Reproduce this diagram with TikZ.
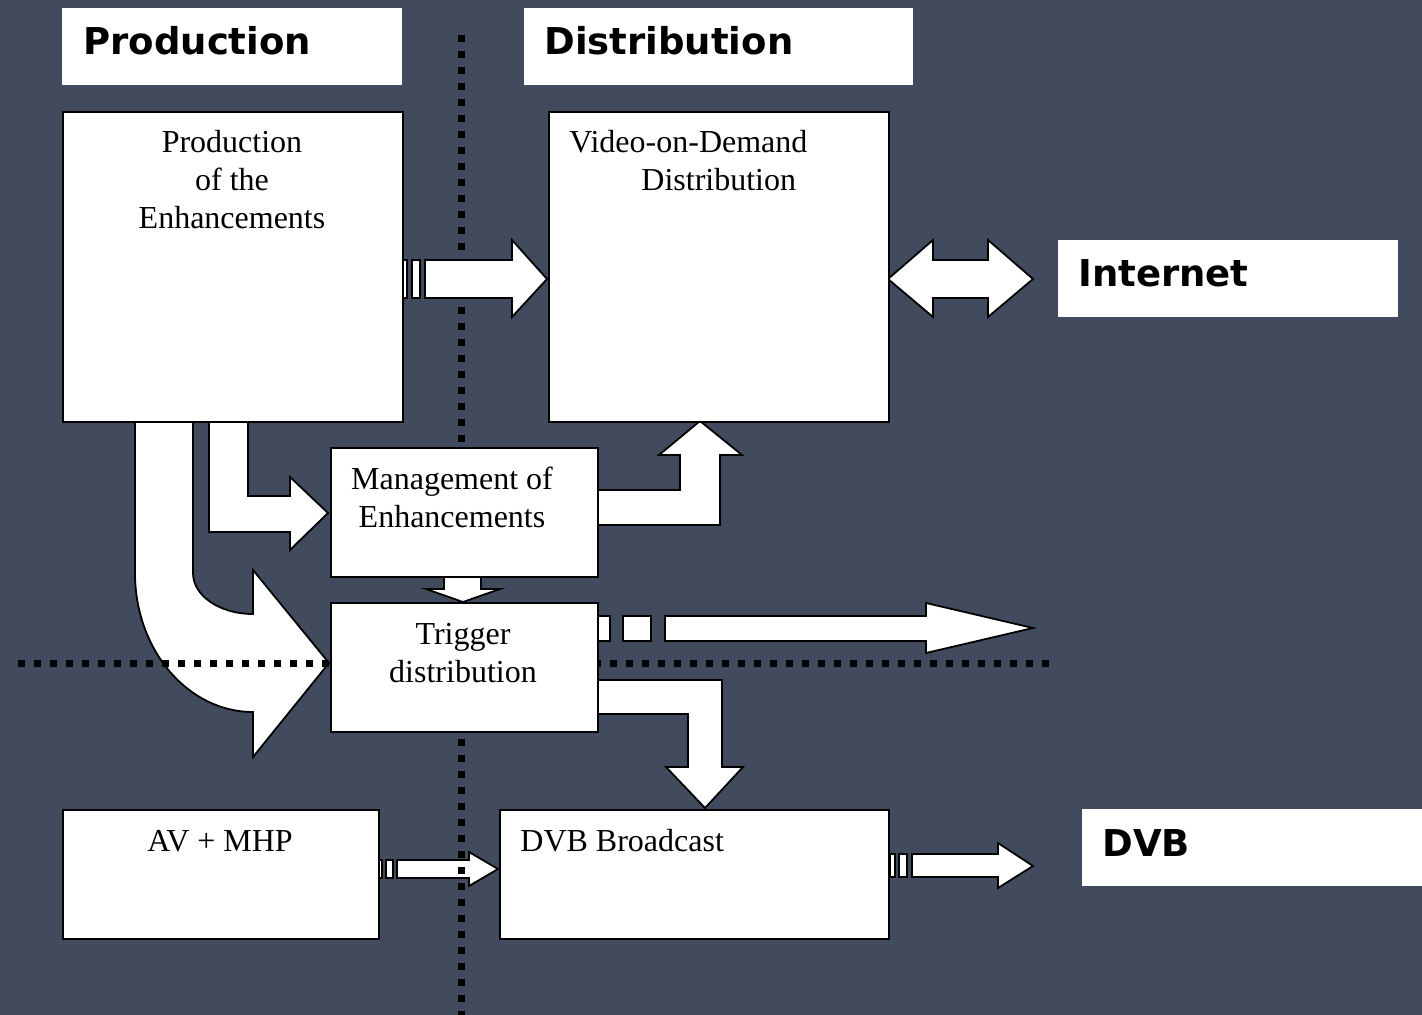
\documentclass[tikz,border=0pt]{standalone}
\usepackage{fontspec}
\setmainfont{Liberation Serif}
\newfontfamily\labelfont{DejaVu Sans}
\definecolor{bg}{RGB}{66,75,94}
\begin{document}
\begin{tikzpicture}[x=0.5pt,y=-0.5pt,
  box/.style={draw=black,fill=white,line width=0.9pt,anchor=north west,inner sep=0pt},
  lbl/.style={fill=white,anchor=north west,inner sep=0pt,minimum width=170pt,minimum height=38.5pt},
  blk/.style={draw=black,fill=white,line width=0.9pt,line join=miter},
  dots/.style={draw=black,line width=3.5pt,dash pattern=on 3.5pt off 4.5pt},
  txt/.style={inner sep=0pt,font=\fontsize{16}{19}\selectfont},
  ltxt/.style={inner sep=0pt,anchor=base west,font=\labelfont\bfseries\fontsize{18.5}{22}\selectfont}]
\fill[bg] (0,0) rectangle (1422,1015);
\useasboundingbox (0,0) rectangle (1422,1015);
% vertical dotted line
\coordinate (vtop) at (461,35);
\coordinate (vbot) at (461,1015);
\draw[dots] (vtop) -- (vbot);
% block arrows
% Prod -> VoD
\draw[blk] (403,260) rectangle (407,298);
\draw[blk] (412,260) rectangle (420,298);
\draw[blk] (425,260) -- (512,260) -- (512,240) -- (547,279) -- (512,317) -- (512,298) -- (425,298) -- cycle;
% VoD <-> Internet
\draw[blk] (888,279) -- (933,240) -- (933,260) -- (988,260) -- (988,240) -- (1033,279) -- (988,317) -- (988,298) -- (933,298) -- (933,317) -- cycle;
% Prod -> Management
\draw[blk] (209,421) -- (248,421) -- (248,496) -- (290,496) -- (290,477) -- (328,513) -- (290,550) -- (290,532) -- (209,532) -- cycle;
% curved Prod -> Trigger
\draw[blk] (135,421) -- (193,421) -- (193,573) .. controls (193,596) and (220,614) .. (253,614) -- (253,570) -- (329,663) -- (253,757) -- (253,712) .. controls (188,712) and (135,650) .. (135,573) -- cycle;
% Management -> VoD
\draw[blk] (597,490) -- (680,490) -- (680,455) -- (659,455) -- (700,421) -- (742,455) -- (720,455) -- (720,525) -- (597,525) -- cycle;
% Management -> Trigger
\draw[blk] (444,576) -- (481,576) -- (481,589) -- (500,589) -- (463,602) -- (426,589) -- (444,589) -- cycle;
% Trigger -> right
\draw[blk] (597,616) rectangle (610,641);
\draw[blk] (623,616) rectangle (651,641);
\draw[blk] (665,616) -- (926,616) -- (926,603) -- (1033,628) -- (926,653) -- (926,641) -- (665,641) -- cycle;
% Trigger -> DVB Broadcast
\draw[blk] (597,680) -- (722,680) -- (722,767) -- (743,767) -- (705,808) -- (666,767) -- (688,767) -- (688,714) -- (597,714) -- cycle;
% AV -> DVB Broadcast
\draw[blk] (377,860) rectangle (382,878);
\draw[blk] (386,860) rectangle (393,878);
\draw[blk] (397,860) -- (469,860) -- (469,852) -- (498,869) -- (469,886) -- (469,878) -- (397,878) -- cycle;
% DVB Broadcast -> DVB
\draw[blk] (890,854) rectangle (895,877);
\draw[blk] (899,854) rectangle (907,877);
\draw[blk] (912,854) -- (998,854) -- (998,843) -- (1033,866) -- (998,888) -- (998,877) -- (912,877) -- cycle;
% horizontal dotted line
\coordinate (hl) at (18,663);
\coordinate (hr) at (1058,663);
\draw[dots] (hl) -- (hr);
\begin{scope}
\clip (0,740) rectangle (1422,1015);
\draw[dots] (vtop) -- (vbot);
\end{scope}
% boxes
\node[box,minimum width=170pt,minimum height=155pt] (prod) at (62,111) {};
\node[box,minimum width=170pt,minimum height=155pt] (vod) at (548,111) {};
\node[box,minimum width=133.5pt,minimum height=64.5pt] (mgmt) at (330,447) {};
\node[box,minimum width=133.5pt,minimum height=64.5pt] (trig) at (330,602) {};
\node[box,minimum width=158pt,minimum height=64.5pt] (av) at (62,809) {};
\node[box,minimum width=194.5pt,minimum height=64.5pt] (dvbb) at (499,809) {};
% box texts
\node[txt,anchor=base] (t1) at (232,153) {Production};
\node[txt,anchor=base] (t2) at (232,191) {of the};
\node[txt,anchor=base] (t3) at (232,229) {Enhancements};
\node[txt,anchor=base west] (t4) at (569,153) {Video-on-Demand};
\node[txt,anchor=base west] (t5) at (641,191) {Distribution};
\node[txt,anchor=base] (t6) at (452,489) {Management of};
\node[txt,anchor=base] (t7) at (452,527) {Enhancements};
\node[txt,anchor=base] (t8) at (463,644) {Trigger};
\node[txt,anchor=base] (t9) at (463,682) {distribution};
\node[txt,anchor=base] (t10) at (220,851) {AV + MHP};
\node[txt,anchor=base west] (t11) at (520,851) {DVB Broadcast};
% label boxes
\node[lbl] (lprod) at (62,8) {};
\node[lbl,minimum width=194.5pt] (ldist) at (524,8) {};
\node[lbl] (linet) at (1058,240) {};
\node[lbl] (ldvb) at (1082,809) {};
\node[ltxt] (l1) at (83,55) {Production};
\node[ltxt] (l2) at (544,55) {Distribution};
\node[ltxt] (l3) at (1078,287) {Internet};
\node[ltxt] (l4) at (1102,856) {DVB};
\end{tikzpicture}
\end{document}
